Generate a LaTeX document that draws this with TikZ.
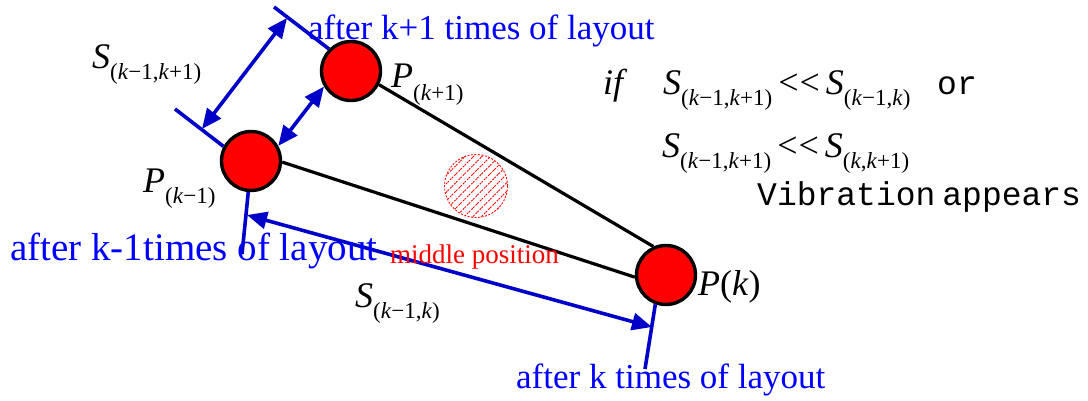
\documentclass[tikz,border=0pt]{standalone}
\usepackage{fontspec}
\setmainfont{Liberation Serif}
\newfontfamily\monofont{Liberation Mono}
\usetikzlibrary{arrows.meta,patterns.meta}
\definecolor{lineblue}{RGB}{0,0,200}
\definecolor{textblue}{RGB}{0,0,255}
\newcommand\SubL[1]{\raisebox{-11pt}{\fontsize{23}{23}\selectfont #1}}
\newcommand\SubP[1]{\raisebox{-13pt}{\fontsize{23}{23}\selectfont #1}}
\newcommand\LL{<\kern1pt<}
\tikzset{
  ball/.style={circle, draw=black, line width=3.4pt, fill=red, minimum size=59pt, inner sep=0pt},
  blk/.style={draw=black, line width=3.2pt},
  tickline/.style={draw=lineblue, line width=3.6pt},
  dbl/.style={draw=lineblue, line width=3.6pt, {Triangle[length=20pt,width=17pt]}-{Triangle[length=20pt,width=17pt]}},
  lbl/.style={anchor=base west, inner sep=0pt, font=\fontsize{36}{36}\selectfont},
  bluetxt/.style={anchor=base west, inner sep=0pt, text=textblue},
}
\begin{document}
\begin{tikzpicture}[x=1pt,y=-1pt]
\useasboundingbox (0,0) rectangle (1088,401);
% hatched middle position
\node[circle, minimum size=63pt, inner sep=0pt, draw=red, dash pattern=on 2pt off 1.5pt, line width=0.8pt,
  pattern={Lines[angle=45,distance=6pt,line width=0.9pt]}, pattern color=red] (mid) at (476,186) {};
% balls
\node[ball] (pkm1) at (251,161) {};
\node[ball] (pkp1) at (351,71) {};
\node[ball] (pk) at (666,275) {};
% black connectors
\draw[blk] (pkm1.-2) -- (pk.184);
\draw[blk] (pkp1.-26) -- (pk.114);
% tick lines
\coordinate (t1) at (274,7);
\coordinate (t2) at (175,109);
\coordinate (t3) at (242,254);
\coordinate (t4) at (645,369);
\draw[tickline] (t1) -- (pkp1.135);
\draw[tickline] (t2) -- (pkm1.152);
\draw[tickline] (pkm1.-95) -- (t3);
\draw[tickline] (pk.-110) -- (t4);
% dimension arrows
\coordinate (a1) at (287,18);
\coordinate (a2) at (202,129);
\draw[dbl] (a1) -- (a2);
\draw[dbl] (pkm1.29) -- (pkp1.210);
\coordinate (b1) at (247,215);
\coordinate (b2) at (652,327);
\draw[dbl] (b1) -- (b2);
% labels
\node[lbl] (lS1) at (92,69) {\textit{S}\SubL{(\textit{k}−1,\textit{k}+1)}};
\node[lbl] (lP1) at (391,88) {\textit{P}\SubP{(\textit{k}+1)}};
\node[lbl] (lP0) at (143,193) {\textit{P}\SubL{(\textit{k}−1)}};
\node[lbl] (lPk) at (698,295) {\textit{P}(\textit{k})};
\node[lbl] (lS2) at (355,307) {\textit{S}\SubL{(\textit{k}−1,\textit{k})}};
% blue texts
\node[bluetxt, font=\fontsize{35}{35}\selectfont] (tx1) at (308,40) {after k+1 times of layout};
\node[bluetxt, font=\fontsize{39}{39}\selectfont] (tx2) at (10,260) {after k-1times of layout};
\node[bluetxt, font=\fontsize{35}{35}\selectfont] (tx3) at (516,388) {after k times of layout};
\node[anchor=base west, inner sep=0pt, text=red, font=\fontsize{27}{27}\selectfont] (tx4) at (390,263) {middle position};
% condition
\node[lbl] (cif) at (603,95) {\textit{if}};
\node[lbl] (c1) at (663,95) {\textit{S}\SubL{(\textit{k}−1,\textit{k}+1)}\,\LL\,\textit{S}\SubL{(\textit{k}−1,\textit{k})}};
\node[anchor=base west, inner sep=0pt, font=\fontsize{33}{33}\selectfont\monofont] (cor) at (937,95) {or};
\node[lbl] (c2) at (662,158) {\textit{S}\SubL{(\textit{k}−1,\textit{k}+1)}\,\LL\,\textit{S}\SubL{(\textit{k},\textit{k}+1)}};
\node[anchor=base west, inner sep=0pt, font=\fontsize{33}{33}\selectfont\monofont] (cvib) at (757,206) {Vibration\hspace{7pt}appears};
\end{tikzpicture}
\end{document}
